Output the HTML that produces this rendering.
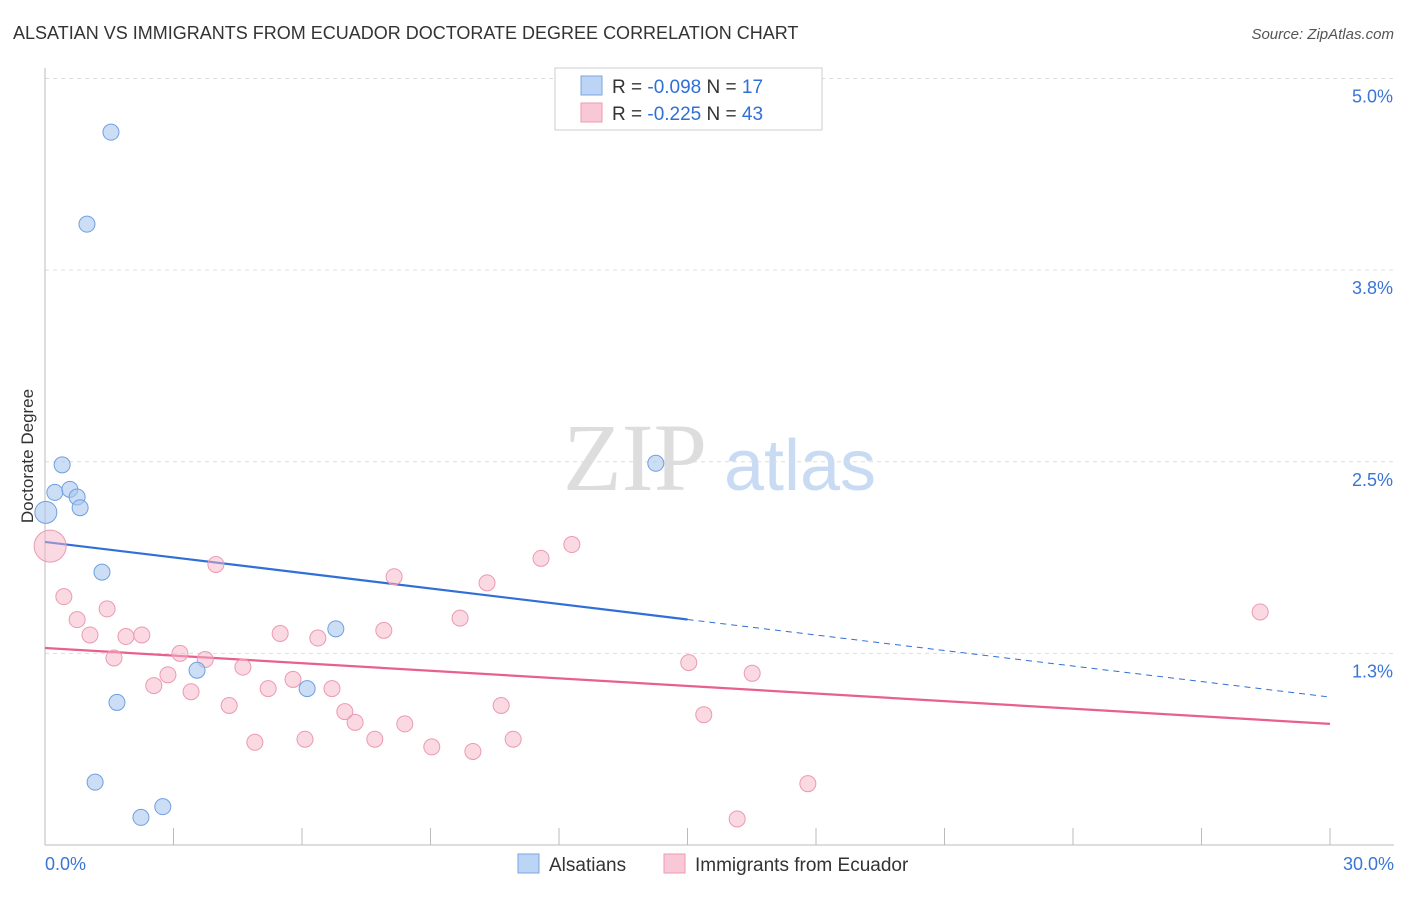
<!DOCTYPE html>
<html><head><meta charset="utf-8"><style>
body{margin:0;background:#fff;font-family:"Liberation Sans",sans-serif;}
</style></head><body>
<svg id="c" width="1406" height="892" xmlns="http://www.w3.org/2000/svg" font-family="Liberation Sans, sans-serif">
<text x="13" y="39" font-size="18" fill="#333">ALSATIAN VS IMMIGRANTS FROM ECUADOR DOCTORATE DEGREE CORRELATION CHART</text>
<text x="1394" y="39" font-size="15" fill="#555" font-style="italic" text-anchor="end">Source: ZipAtlas.com</text>
<text transform="translate(33,456) rotate(-90)" font-size="17" fill="#333" text-anchor="middle">Doctorate Degree</text>
<g><text x="635" y="490" font-size="96" fill="#ddd" font-family="Liberation Serif, serif" text-anchor="middle">ZIP</text><text x="800" y="490" font-size="72" fill="#c8dbf3" text-anchor="middle">atlas</text></g>
<g id="grid"></g><g id="axes"></g><g id="trend"></g><g id="pts"></g>
<g>
<rect x="555" y="68" width="267" height="62" fill="#fff" stroke="#ccc"/>
<rect x="581" y="76" width="21" height="19" fill="#bcd4f5" stroke="#7aa6e0"/>
<text x="612" y="93" font-size="19" fill="#333">R = <tspan fill="#2f6fd6">-0.098</tspan>   N = <tspan fill="#2f6fd6"> 17</tspan></text>
<rect x="581" y="103" width="21" height="19" fill="#f9c8d6" stroke="#eb9ab2"/>
<text x="612" y="120" font-size="19" fill="#333">R =  <tspan fill="#2f6fd6">-0.225</tspan>   N = <tspan fill="#2f6fd6">43</tspan></text>
</g>
<g>
<rect x="518" y="854" width="21" height="19" fill="#bcd4f5" stroke="#7aa6e0"/>
<text x="549" y="871" font-size="19" fill="#333">Alsatians</text>
<rect x="664" y="854" width="21" height="19" fill="#f9c8d6" stroke="#eb9ab2"/>
<text x="695" y="871" font-size="19" fill="#333">Immigrants from Ecuador</text>
</g>
</svg>
<script>
const yTicks=[1.25,2.5,3.75,5.0];
const yTickLabels=["1.3%","2.5%","3.8%","5.0%"];
const xTickLabels=["0.0%","30.0%"];
const blueX=[1.54,0.98,0.40,0.23,0.58,0.75,0.82,0.02,1.33,6.79,3.55,6.12,1.68,1.17,2.75,2.24,14.26];
const blueY=[4.65,4.05,2.48,2.30,2.32,2.27,2.20,2.17,1.78,1.41,1.14,1.02,0.93,0.41,0.25,0.18,2.49];
const pinkX=[0.12,0.44,0.75,1.45,1.05,1.89,2.26,1.61,3.15,3.74,2.87,2.54,3.41,3.99,4.62,4.30,5.21,5.49,5.79,4.90,6.37,6.70,6.07,7.00,7.24,7.70,7.91,8.15,8.40,9.03,9.69,9.99,10.32,10.65,10.93,11.58,12.30,15.03,15.38,16.51,16.16,17.81,28.37];
const pinkY=[1.95,1.62,1.47,1.54,1.37,1.36,1.37,1.22,1.25,1.21,1.11,1.04,1.00,1.83,1.16,0.91,1.02,1.38,1.08,0.67,1.35,1.02,0.69,0.87,0.80,0.69,1.40,1.75,0.79,0.64,1.48,0.61,1.71,0.91,0.69,1.87,1.96,1.19,0.85,1.12,0.17,0.40,1.52];
const blueTrend=[1.977,0.965];
const pinkTrend=[1.285,0.790];
const NS="http://www.w3.org/2000/svg";
const X=v=>45+v/30*1285, Y=v=>845-v*153.3;
function mk(t,a,p){const e=document.createElementNS(NS,t);for(const k in a)e.setAttribute(k,a[k]);document.getElementById(p).appendChild(e);return e;}
yTicks.forEach((t,i)=>{
 const g=mk('line',{x1:45,x2:1394,y1:Y(t),y2:Y(t),stroke:'#ddd','stroke-dasharray':'4,4'},'grid');
 
 
 const l=mk('text',{x:1393,y:Y(t)+24,'font-size':18,fill:'#3a75d6','text-anchor':'end'},'grid');
 l.textContent=yTickLabels[i];
 
 
});
const ax=mk('line',{x1:45,x2:1394,y1:845,y2:845,stroke:'#bbb'},'axes');


const ay=mk('line',{x1:45,x2:45,y1:68,y2:845,stroke:'#bbb'},'axes');


for(let i=1;i<=10;i++){
 const t=mk('line',{x1:X(i*3),x2:X(i*3),y1:828,y2:845,stroke:'#bbb'},'axes');
 
 
}
[[0,'start',45],[30,'end',1394]].forEach((d,i)=>{
 const t=mk('text',{x:d[2],y:870,'font-size':18,fill:'#3a75d6','text-anchor':d[1]},'axes');
 t.textContent=xTickLabels[i];
 
 
});
function line(a,b,x0,x1,c,dash,name){
 const e=mk('line',{x1:X(x0),x2:X(x1),y1:Y(a+(b-a)*x0/30),y2:Y(a+(b-a)*x1/30),stroke:c,'stroke-width':dash?1:2.2,'stroke-dasharray':dash?'6,5':'none'},'trend');
 
 
}
line(pinkTrend[0],pinkTrend[1],0,30,'#e8608e',false,'ecuador-trend-line');
line(blueTrend[0],blueTrend[1],0,15,'#2f6fd6',false,'alsatian-trend-line');
line(blueTrend[0],blueTrend[1],15,30,'#2f6fd6',true,'alsatian-trend-extension');
pinkX.forEach((x,i)=>{
 const c=mk('circle',{cx:X(x),cy:Y(pinkY[i]),r:i==0?16:8,fill:'rgba(246,180,200,0.5)',stroke:'#eb9ab2','stroke-width':1},'pts');
 
 
});
blueX.forEach((x,i)=>{
 const c=mk('circle',{cx:X(x),cy:Y(blueY[i]),r:i==7?11:8,fill:'rgba(170,200,240,0.6)',stroke:'#6f9fe0','stroke-width':1},'pts');
 
 
});
</script>
</body></html>
